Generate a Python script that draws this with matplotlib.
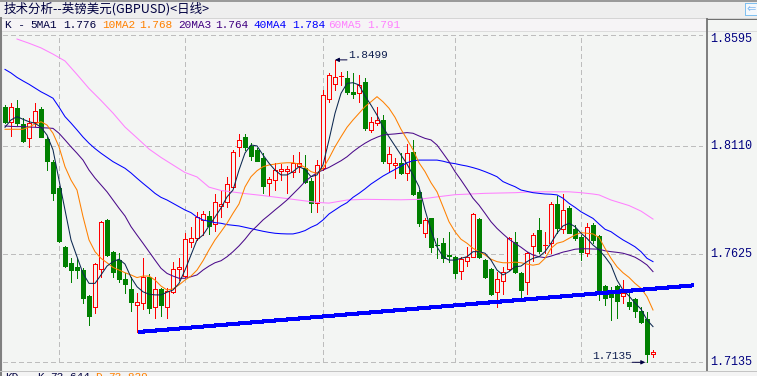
import matplotlib
matplotlib.use("Agg")
import matplotlib.pyplot as plt
from matplotlib.patches import Rectangle
from matplotlib.lines import Line2D
from matplotlib.transforms import blended_transform_factory

plt.rcParams['lines.scale_dashes'] = False

# ---------------- data ----------------
opens = [1.8288, 1.8217, 1.8281, 1.8210, 1.8145, 1.8220, 1.8277, 1.8141, 1.8040, 1.7921,
         1.7654, 1.7582, 1.7563, 1.7551, 1.7434, 1.7383, 1.7557, 1.7777, 1.7634, 1.7596,
         1.7511, 1.7466, 1.7392, 1.7401, 1.7518, 1.7386, 1.7466, 1.7383, 1.7451, 1.7554,
         1.7524, 1.7676, 1.7694, 1.7777, 1.7795, 1.7759, 1.7842, 1.7859, 1.7927, 1.8107,
         1.8150, 1.8111, 1.8093, 1.8055, 1.7942, 1.7957, 1.8000, 1.8000, 1.7995, 1.8020,
         1.8010, 1.7954, 1.7855, 1.8010, 1.8321, 1.8390, 1.8424, 1.8416, 1.8355, 1.8348,
         1.8401, 1.8183, 1.8216, 1.8228, 1.8035, 1.8027, 1.8033, 1.7987, 1.8085, 1.7903,
         1.7717, 1.7784, 1.7666, 1.7672, 1.7618, 1.7611, 1.7548, 1.7593, 1.7611, 1.7780,
         1.7596, 1.7554, 1.7453, 1.7503, 1.7554, 1.7679, 1.7536, 1.7499, 1.7660, 1.7732,
         1.7662, 1.7672, 1.7849, 1.7735, 1.7830, 1.7735, 1.7701, 1.7629, 1.7754, 1.7705,
         1.7479, 1.7453, 1.7479, 1.7434, 1.7406, 1.7421, 1.7368, 1.7329, 1.7171]
highs = [1.8295, 1.8306, 1.8318, 1.8237, 1.8235, 1.8306, 1.8286, 1.8151, 1.8047, 1.7930,
         1.7660, 1.7605, 1.7604, 1.7560, 1.7439, 1.7584, 1.7774, 1.7780, 1.7637, 1.7629,
         1.7536, 1.7521, 1.7449, 1.7604, 1.7533, 1.7521, 1.7470, 1.7470, 1.7589, 1.7604,
         1.7720, 1.7747, 1.7814, 1.7819, 1.7819, 1.7894, 1.7912, 1.7972, 1.8093, 1.8163,
         1.8165, 1.8123, 1.8100, 1.8078, 1.7972, 1.8033, 1.8029, 1.8020, 1.8070, 1.8085,
         1.8070, 1.7966, 1.8047, 1.8363, 1.8438, 1.8499, 1.8446, 1.8449, 1.8438, 1.8431,
         1.8416, 1.8240, 1.8288, 1.8250, 1.8107, 1.8055, 1.8078, 1.8120, 1.8138, 1.7912,
         1.7784, 1.7786, 1.7694, 1.7694, 1.7721, 1.7614, 1.7611, 1.7654, 1.7808, 1.7786,
         1.7601, 1.7560, 1.7544, 1.7563, 1.7700, 1.7724, 1.7542, 1.7632, 1.7720, 1.7784,
         1.7724, 1.7859, 1.7885, 1.7894, 1.7840, 1.7754, 1.7709, 1.7765, 1.7762, 1.7709,
         1.7484, 1.7476, 1.7484, 1.7506, 1.7461, 1.7425, 1.7386, 1.7363, 1.7190]
lows = [1.8214, 1.8157, 1.8205, 1.8129, 1.8105, 1.8201, 1.8149, 1.8002, 1.7867, 1.7678,
        1.7565, 1.7499, 1.7515, 1.7402, 1.7303, 1.7356, 1.7521, 1.7614, 1.7521, 1.7499,
        1.7449, 1.7368, 1.7273, 1.7374, 1.7359, 1.7333, 1.7344, 1.7333, 1.7448, 1.7506,
        1.7520, 1.7656, 1.7687, 1.7709, 1.7712, 1.7729, 1.7792, 1.7837, 1.7926, 1.8065,
        1.8093, 1.8047, 1.8043, 1.7900, 1.7885, 1.7912, 1.7957, 1.7900, 1.7972, 1.7995,
        1.7942, 1.7814, 1.7814, 1.8002, 1.8310, 1.8363, 1.8386, 1.8345, 1.8326, 1.8310,
        1.8183, 1.8175, 1.8205, 1.8035, 1.7995, 1.7965, 1.7984, 1.7957, 1.7890, 1.7750,
        1.7699, 1.7634, 1.7604, 1.7589, 1.7589, 1.7514, 1.7509, 1.7569, 1.7610, 1.7605,
        1.7515, 1.7439, 1.7386, 1.7443, 1.7551, 1.7536, 1.7424, 1.7443, 1.7593, 1.7627,
        1.7627, 1.7627, 1.7717, 1.7720, 1.7718, 1.7687, 1.7596, 1.7614, 1.7674, 1.7416,
        1.7393, 1.7326, 1.7333, 1.7401, 1.7374, 1.7341, 1.7311, 1.7135, 1.7160]
closes = [1.8220, 1.8285, 1.8213, 1.8134, 1.8216, 1.8270, 1.8152, 1.8044, 1.7900, 1.7683,
          1.7571, 1.7551, 1.7551, 1.7426, 1.7344, 1.7578, 1.7768, 1.7619, 1.7544, 1.7509,
          1.7488, 1.7408, 1.7406, 1.7521, 1.7379, 1.7466, 1.7393, 1.7458, 1.7554, 1.7563,
          1.7690, 1.7694, 1.7792, 1.7804, 1.7751, 1.7859, 1.7847, 1.7939, 1.8085, 1.8138,
          1.8107, 1.8065, 1.8044, 1.7930, 1.7960, 1.8002, 1.8005, 1.8005, 1.8035, 1.8035,
          1.7950, 1.7855, 1.8025, 1.8341, 1.8431, 1.8420, 1.8428, 1.8355, 1.8345, 1.8386,
          1.8190, 1.8220, 1.8228, 1.8044, 1.8074, 1.8032, 1.7987, 1.8080, 1.7894, 1.7762,
          1.7777, 1.7654, 1.7662, 1.7604, 1.7614, 1.7539, 1.7600, 1.7611, 1.7804, 1.7611,
          1.7518, 1.7443, 1.7509, 1.7541, 1.7694, 1.7544, 1.7461, 1.7627, 1.7709, 1.7638,
          1.7666, 1.7849, 1.7739, 1.7822, 1.7720, 1.7694, 1.7634, 1.7744, 1.7687, 1.7461,
          1.7424, 1.7428, 1.7413, 1.7446, 1.7390, 1.7368, 1.7318, 1.7171, 1.7180]

ma5 = [1.8195, 1.8228, 1.8243, 1.8231, 1.8220, 1.8213, 1.8195, 1.8160, 1.8093, 1.7957,
       1.7822, 1.7687, 1.7611, 1.7536, 1.7491, 1.7491, 1.7529, 1.7569, 1.7589, 1.7600,
       1.7578, 1.7518, 1.7476, 1.7453, 1.7442, 1.7439, 1.7439, 1.7451, 1.7461, 1.7491,
       1.7551, 1.7619, 1.7687, 1.7709, 1.7750, 1.7790, 1.7831, 1.7881, 1.7912, 1.8002,
       1.8079, 1.8115, 1.8111, 1.8070, 1.8033, 1.8002, 1.7980, 1.7980, 1.7995, 1.8017,
       1.8005, 1.7972, 1.7980, 1.8025, 1.8138, 1.8258, 1.8348, 1.8393, 1.8396, 1.8386,
       1.8336, 1.8295, 1.8250, 1.8195, 1.8152, 1.8111, 1.8070, 1.8029, 1.7980, 1.7927,
       1.7822, 1.7732, 1.7656, 1.7611, 1.7596, 1.7596, 1.7604, 1.7611, 1.7634, 1.7634,
       1.7627, 1.7596, 1.7551, 1.7529, 1.7544, 1.7566, 1.7569, 1.7589, 1.7604, 1.7611,
       1.7634, 1.7672, 1.7717, 1.7750, 1.7762, 1.7747, 1.7717, 1.7694, 1.7664, 1.7642,
       1.7611, 1.7574, 1.7506, 1.7461, 1.7434, 1.7402, 1.7375, 1.7326, 1.7296]
ma10 = [1.8186, 1.8186, 1.8186, 1.8186, 1.8196, 1.8210, 1.8220, 1.8205, 1.8168, 1.8107,
        1.8017, 1.7957, 1.7912, 1.7792, 1.7687, 1.7634, 1.7604, 1.7584, 1.7563, 1.7551,
        1.7539, 1.7529, 1.7517, 1.7524, 1.7524, 1.7506, 1.7479, 1.7461, 1.7466, 1.7484,
        1.7506, 1.7524, 1.7551, 1.7593, 1.7642, 1.7687, 1.7724, 1.7762, 1.7807, 1.7849,
        1.7926, 1.7972, 1.7999, 1.8017, 1.8025, 1.8029, 1.8033, 1.8035, 1.8035, 1.8029,
        1.8014, 1.7995, 1.7987, 1.8010, 1.8055, 1.8107, 1.8152, 1.8195, 1.8228, 1.8258,
        1.8288, 1.8310, 1.8333, 1.8310, 1.8281, 1.8240, 1.8186, 1.8141, 1.8093, 1.8035,
        1.7995, 1.7945, 1.7904, 1.7837, 1.7769, 1.7724, 1.7690, 1.7672, 1.7649, 1.7634,
        1.7619, 1.7600, 1.7589, 1.7584, 1.7584, 1.7587, 1.7584, 1.7578, 1.7573, 1.7578,
        1.7604, 1.7649, 1.7672, 1.7679, 1.7694, 1.7709, 1.7720, 1.7717, 1.7714, 1.7698,
        1.7649, 1.7604, 1.7566, 1.7539, 1.7518, 1.7491, 1.7469, 1.7431, 1.7371]
ma20 = [1.8201, 1.8199, 1.8198, 1.8198, 1.8196, 1.8195, 1.8193, 1.8192, 1.8190, 1.8168,
        1.8138, 1.8107, 1.8078, 1.8047, 1.8002, 1.7966, 1.7935, 1.7904, 1.7867, 1.7830,
        1.7795, 1.7747, 1.7709, 1.7672, 1.7634, 1.7596, 1.7559, 1.7536, 1.7524, 1.7514,
        1.7514, 1.7521, 1.7529, 1.7551, 1.7569, 1.7584, 1.7593, 1.7611, 1.7634, 1.7660,
        1.7690, 1.7724, 1.7750, 1.7777, 1.7799, 1.7822, 1.7844, 1.7867, 1.7894, 1.7921,
        1.7950, 1.7972, 1.7990, 1.8002, 1.8014, 1.8029, 1.8044, 1.8062, 1.8085, 1.8105,
        1.8123, 1.8138, 1.8150, 1.8160, 1.8163, 1.8165, 1.8168, 1.8171, 1.8168, 1.8156,
        1.8145, 1.8138, 1.8115, 1.8078, 1.8040, 1.7995, 1.7957, 1.7917, 1.7875, 1.7844,
        1.7807, 1.7769, 1.7739, 1.7714, 1.7690, 1.7672, 1.7654, 1.7634, 1.7619, 1.7611,
        1.7607, 1.7614, 1.7623, 1.7632, 1.7638, 1.7645, 1.7647, 1.7647, 1.7646, 1.7645,
        1.7638, 1.7634, 1.7631, 1.7627, 1.7619, 1.7609, 1.7593, 1.7574, 1.7544]
ma40 = [1.8456, 1.8440, 1.8420, 1.8404, 1.8389, 1.8372, 1.8355, 1.8341, 1.8326, 1.8286,
        1.8243, 1.8214, 1.8183, 1.8151, 1.8123, 1.8099, 1.8078, 1.8059, 1.8040, 1.8025,
        1.8010, 1.7989, 1.7965, 1.7942, 1.7920, 1.7897, 1.7879, 1.7867, 1.7852, 1.7837,
        1.7822, 1.7810, 1.7790, 1.7777, 1.7771, 1.7765, 1.7762, 1.7756, 1.7753, 1.7750,
        1.7744, 1.7738, 1.7732, 1.7726, 1.7721, 1.7717, 1.7715, 1.7714, 1.7714, 1.7720,
        1.7729, 1.7744, 1.7756, 1.7777, 1.7804, 1.7822, 1.7840, 1.7855, 1.7879, 1.7897,
        1.7917, 1.7939, 1.7957, 1.7975, 1.7990, 1.8005, 1.8020, 1.8035, 1.8044, 1.8047,
        1.8047, 1.8047, 1.8047, 1.8042, 1.8035, 1.8031, 1.8025, 1.8020, 1.8013, 1.8005,
        1.7995, 1.7984, 1.7972, 1.7950, 1.7938, 1.7927, 1.7912, 1.7906, 1.7900, 1.7897,
        1.7894, 1.7893, 1.7890, 1.7875, 1.7852, 1.7834, 1.7814, 1.7799, 1.7784, 1.7759,
        1.7735, 1.7724, 1.7705, 1.7687, 1.7672, 1.7656, 1.7634, 1.7604, 1.7589]
ma60_idx = [2, 4, 6, 8, 10, 12, 14, 16, 18, 20, 22, 24, 26, 28, 30, 32, 34, 36, 40, 43,
            48, 52, 54, 57, 60, 66, 69, 72, 75, 80, 85, 88, 94, 96, 98, 99, 101, 104, 106, 108]
ma60 = [1.8593, 1.8574, 1.8553, 1.8525, 1.8494, 1.8433, 1.8370, 1.8316, 1.8259, 1.8196,
        1.8147, 1.8097, 1.8059, 1.8025, 1.7991, 1.7971, 1.7925, 1.7910, 1.7896, 1.7887,
        1.7870, 1.7856, 1.7853, 1.7867, 1.7870, 1.7868, 1.7870, 1.7881, 1.7891, 1.7897,
        1.7900, 1.7904, 1.7904, 1.7900, 1.7894, 1.7890, 1.7867, 1.7842, 1.7817, 1.7781]

trend_idx = [22.3, 114.7]
trend_val = [1.7272, 1.7482]
month_idx = [9, 30, 53, 75, 96]
y_ticks = [1.8595, 1.8110, 1.7625, 1.7135]
y_tick_labels = ["1.8595", "1.8110", "1.7625", "1.7135"]
title = "技术分析--英镑美元(GBPUSD)<日线>"
legend_names = ["5MA1", "10MA2", "20MA3", "40MA4", "60MA5"]
legend_values = ["1.776", "1.768", "1.764", "1.784", "1.791"]
high_idx, high_val, high_label = 55, 1.8499, "1.8499"
low_idx, low_val, low_label = 107, 1.7135, "1.7135"
kd_labels = ["KD", "K", "73.644", "D", "73.829"]

# ---------------- style ----------------
C_UP = '#ff0000'
C_DN = '#008000'
C_MA = ['#0c2850', '#ff8000', '#4b0a8a', '#0000ff', '#ff80ff']
C_LABEL = '#000080'
BG_PLOT = '#f3f5f3'
MONO = 'Liberation Mono'
LW1 = 0.72   # one pixel at 100 dpi

W, H = 757, 376


def fx(x):
    return x / W


def fy(y):
    return 1 - y / H


fig = plt.figure(figsize=(W / 100, H / 100), dpi=100, facecolor='#eeeeee')


def frect(x0, y0, x1, y1, color, z=-1):
    fig.add_artist(Rectangle((fx(x0), fy(y1)), fx(x1) - fx(x0), fy(y0) - fy(y1),
                             transform=fig.transFigure, facecolor=color,
                             edgecolor='none', zorder=z))


def fline(xs, ys, color, lw=1.0, z=6):
    fig.add_artist(Line2D([fx(v) for v in xs], [fy(v) for v in ys],
                          transform=fig.transFigure, color=color,
                          lw=lw * 0.72, zorder=z, antialiased=False))


# panel backgrounds
frect(0, 18, 757, 31, '#f6f4f6')
frect(706, 19, 757, 371, BG_PLOT)
frect(0, 371, 757, 376, '#f4f4f4')
# borders
fline([0, 757], [0.5, 0.5], '#9a9a9a', 2)
fline([0, 757], [17.5, 17.5], '#d4d4d4', 1)
fline([0, 757], [31, 31], '#dcdcdc', 1)
fline([1, 1], [18, 376], '#808080', 2)
fline([706.5, 706.5], [19, 371], '#808080', 2)
fline([707, 757], [19, 19], '#707070', 1)
fline([0, 757], [371, 371], '#c4c4c4', 1)

# icon top-right
frect(745, 3, 757, 15, '#f4f8fc', z=5)
fline([745, 757], [3, 3], '#80c0f0', 1)
fline([745, 757], [15, 15], '#80c0f0', 1)
fline([745, 745], [3, 15], '#80c0f0', 1)
fig.text(fx(751), fy(9), '⇐', color='#80b8f0', fontsize=8, family='DejaVu Sans',
         ha='center', va='center', zorder=7)

# title
fig.text(fx(4), fy(9), title, color='#000040', fontsize=9,
         family=['Noto Sans CJK SC', 'DejaVu Sans'], ha='left', va='center')

# legend row
fig.text(fx(5), fy(24.5), 'K -', color='#000040', fontsize=8, family=MONO, ha='left', va='center')
name_x = [30, 101.7, 178.3, 253.3, 328.3]
val_x = [63, 139.3, 215, 291.7, 366.7]
leg_cols = ['#000040', '#ff8000', '#400080', '#0000ff', '#ff80ff']
for nm, vl, nx, vx, col in zip(legend_names, legend_values, name_x, val_x, leg_cols):
    fig.text(fx(nx), fy(24.5), nm, color=col, fontsize=8, family=MONO, ha='left', va='center')
    fig.text(fx(vx), fy(24.5), vl, color=col, fontsize=8, family=MONO, ha='left', va='center')

# bottom strip: top of the next indicator panel, cut off by the image edge as in the reference
kd_x = [5, 37, 50, 95, 108]
kd_cols = ['#000040', '#000040', '#000040', '#ff8000', '#ff8000']
for t, x, col in zip(kd_labels, kd_x, kd_cols):
    fig.text(fx(x), fy(372.5), t, color=col, fontsize=8, family=MONO, ha='left', va='top')

# ---------------- main axes ----------------
ax = fig.add_axes([fx(3), fy(371), (706 - 3) / W, (371 - 31) / H])
ax.set_facecolor(BG_PLOT)
ax.set_xlim(-1 / 3, 701 / 6)
ax.set_ylim(1.70958, 1.86292)
ax.set_xticks([])
ax.set_yticks([])
for s in ax.spines.values():
    s.set_visible(False)

grid_kw = dict(color='#bdbdbd', lw=LW1, dashes=(3.0, 2.2), zorder=1, antialiased=False)
grid_top = 1.8611
for v in y_ticks[1:]:
    ax.plot([-1 / 3, 116.2], [v, v], **grid_kw)
ax.plot([-1 / 3, 116.2], [grid_top, grid_top], **grid_kw)
for m in month_idx:
    ax.plot([m, m], [y_ticks[-1], grid_top], **grid_kw)

# candles
w = 4 / 6
for i, (o, h, l, c) in enumerate(zip(opens, highs, lows, closes)):
    up = c >= o
    col = C_UP if up else C_DN
    ax.plot([i, i], [l, h], color=col, lw=LW1, zorder=2, antialiased=False,
            solid_capstyle='butt')
    bot = min(o, c)
    ht = max(abs(c - o), 0.0003)
    ax.add_patch(Rectangle((i - w / 2, bot), w, ht,
                           facecolor=BG_PLOT if up else col, edgecolor=col,
                           lw=LW1, zorder=3, antialiased=False))

# moving averages (thin anti-aliased lines)
n = len(closes)
idx = list(range(n))
ma_kw = dict(lw=0.75, zorder=4, solid_joinstyle='round')
ax.plot(ma60_idx, ma60, color=C_MA[4], **ma_kw)
ax.plot(idx, ma40, color=C_MA[3], **ma_kw)
ax.plot(idx, ma20, color=C_MA[2], **ma_kw)
ax.plot(idx, ma10, color=C_MA[1], **ma_kw)
ax.plot(idx, ma5, color=C_MA[0], **ma_kw)

# support trend line
ax.plot(trend_idx, trend_val, color='#0000ff', lw=2.2, zorder=5,
        solid_capstyle='butt', antialiased=False)

# high / low annotations
arrow_kw = dict(arrowstyle='-|>', color='#000040', lw=0.7, mutation_scale=6,
                shrinkA=0, shrinkB=0)
ax.annotate('', xy=(high_idx, high_val), xycoords='data',
            xytext=(12, 0), textcoords='offset pixels', arrowprops=arrow_kw, zorder=6)
ax.annotate(high_label, xy=(high_idx, high_val), xycoords='data',
            xytext=(13, 5), textcoords='offset pixels', color='#102050',
            fontsize=8, family=MONO, ha='left', va='center', zorder=6)
ax.annotate('', xy=(low_idx - 0.3, low_val), xycoords='data',
            xytext=(-13, 0), textcoords='offset pixels', arrowprops=arrow_kw, zorder=6)
ax.annotate(low_label, xy=(low_idx, low_val), xycoords='data',
            xytext=(-15, 6), textcoords='offset pixels', color='#102050',
            fontsize=8, family=MONO, ha='right', va='center', zorder=6)

# right price labels
tr = blended_transform_factory(fig.transFigure, ax.transData)
for v, lab in zip(y_ticks, y_tick_labels):
    ax.text(fx(710), v, lab, transform=tr, color=C_LABEL, fontsize=8.5,
            family=MONO, ha='left', va='center', clip_on=False)

fig.savefig('out.png', dpi=100, facecolor=fig.get_facecolor())
